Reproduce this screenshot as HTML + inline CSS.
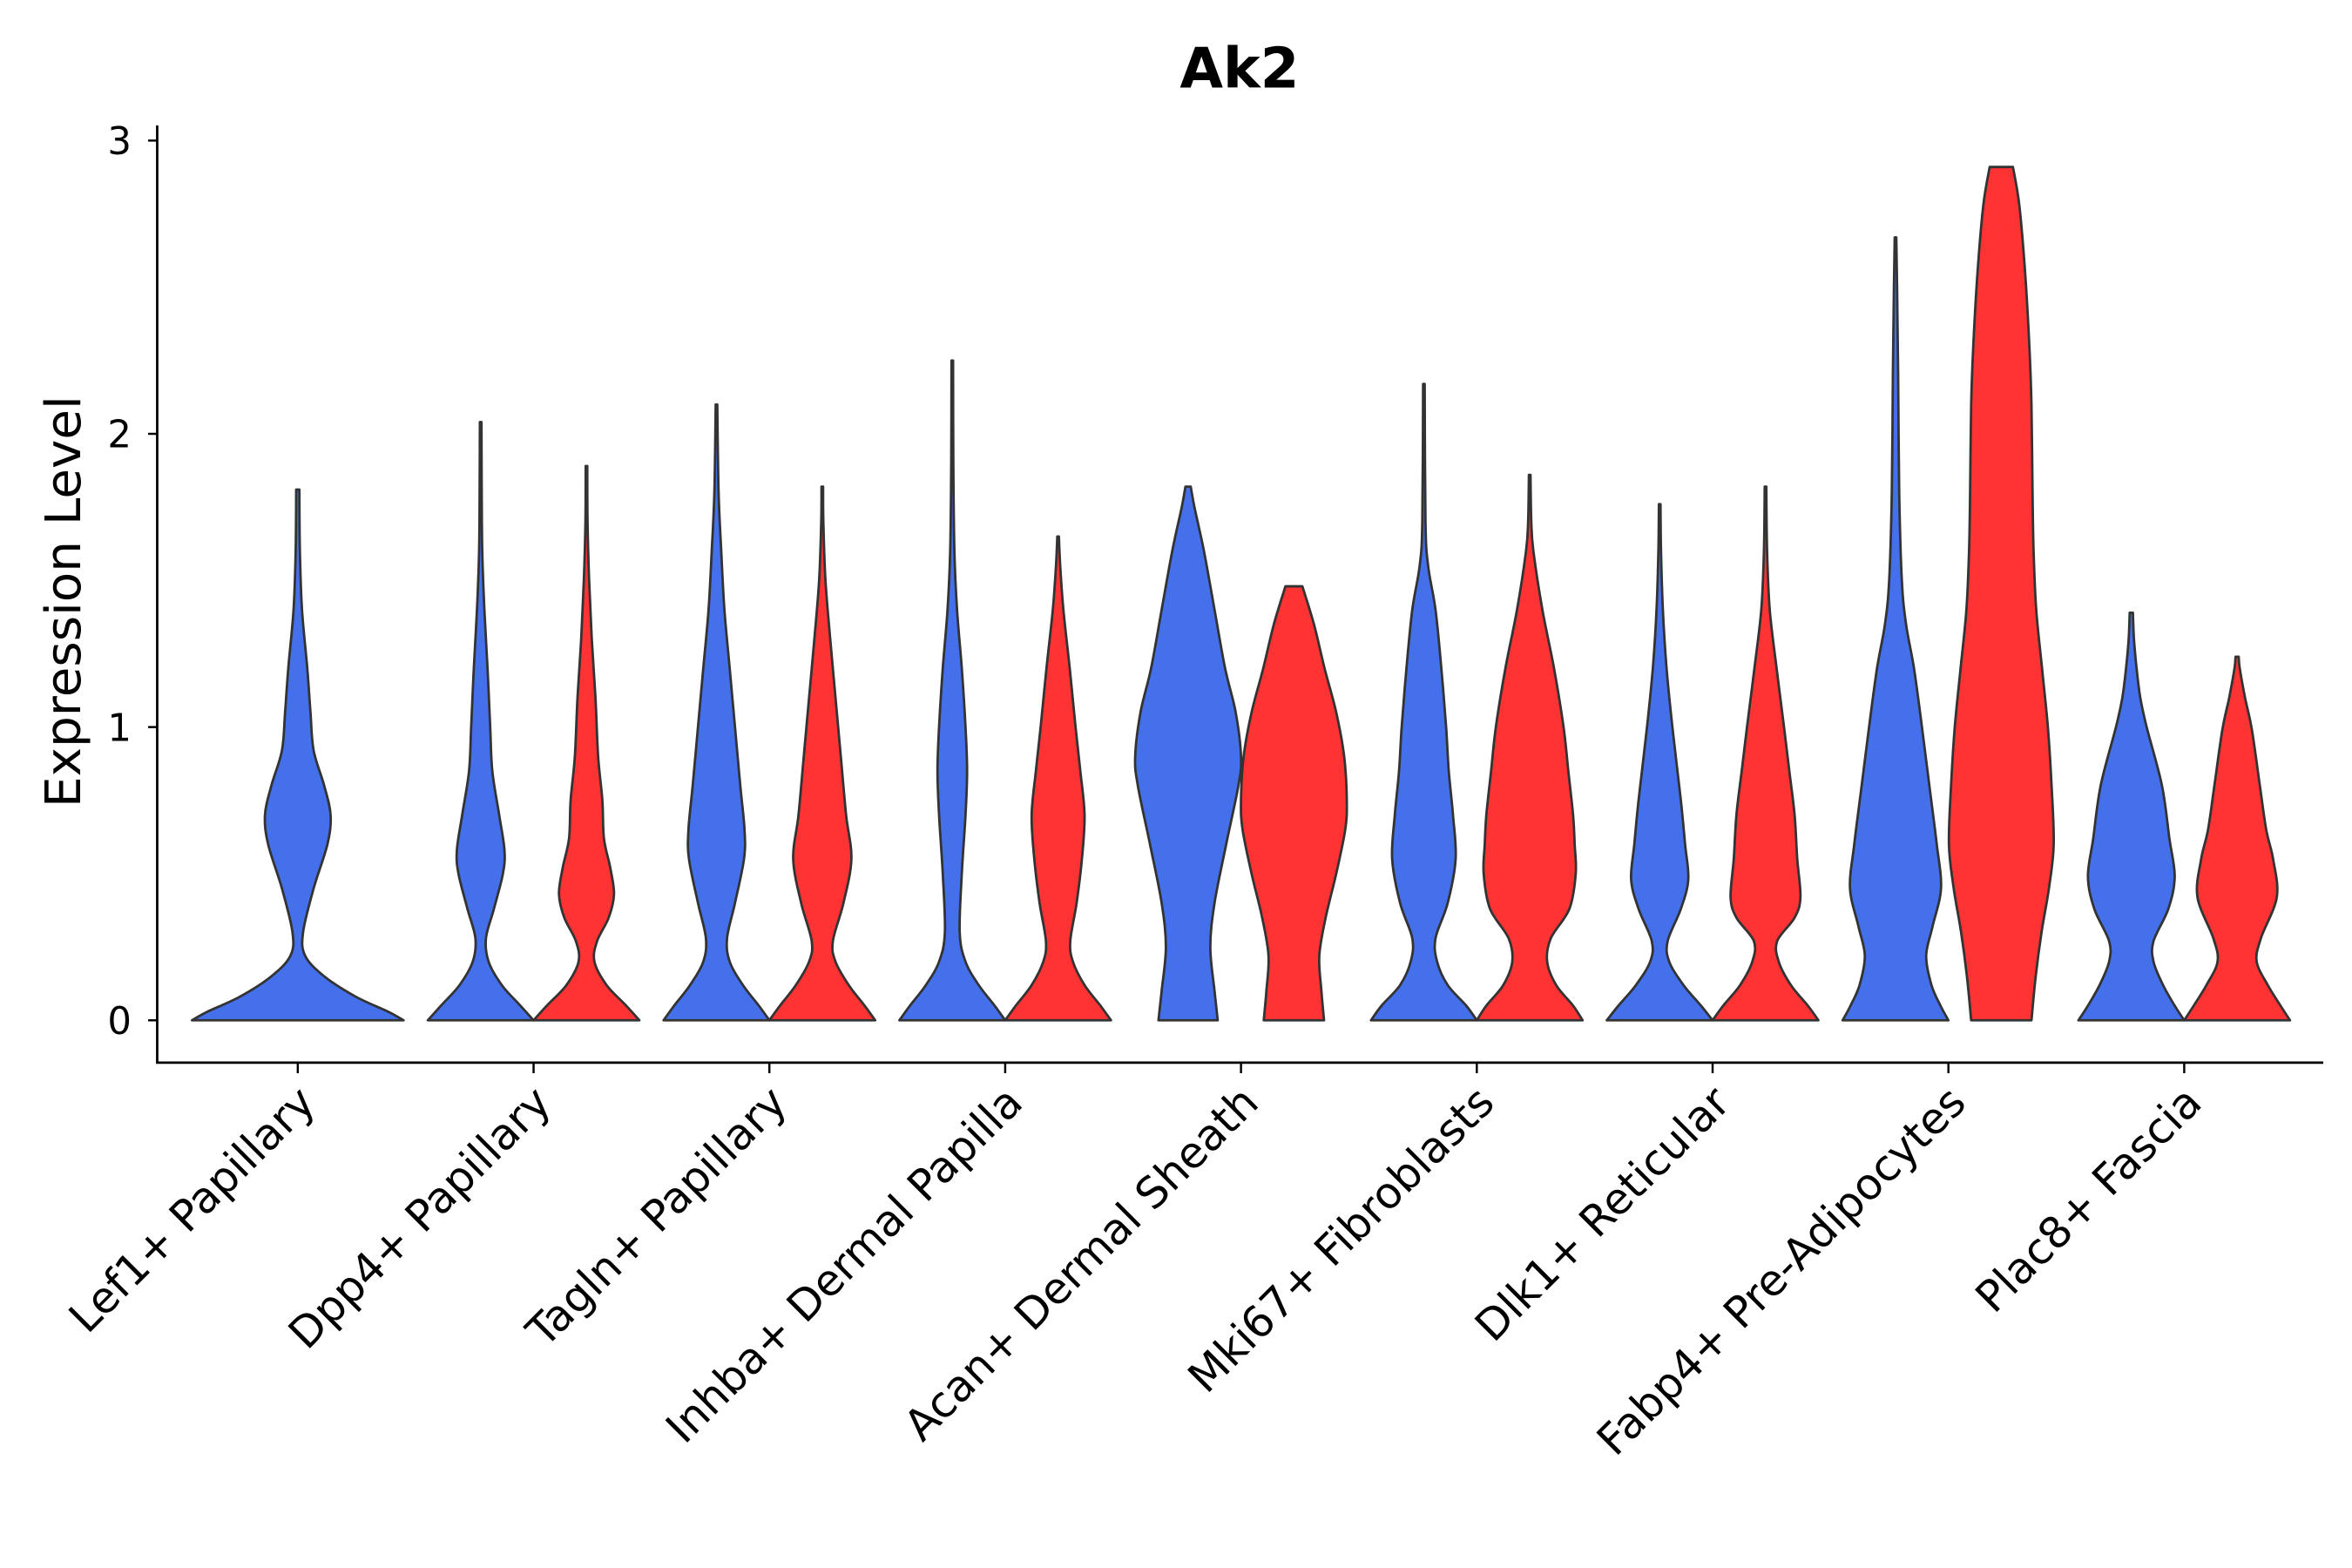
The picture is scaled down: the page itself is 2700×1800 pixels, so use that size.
<!DOCTYPE html>
<html><head><meta charset="utf-8"><style>html,body{margin:0;padding:0;background:#fff}svg{display:block}</style></head>
<body>
<svg id="chart" width="2700" height="1800" viewBox="0 0 1556 1037.33" xmlns="http://www.w3.org/2000/svg" font-family="DejaVu Sans, sans-serif">
<rect width="1556" height="1037.33" fill="#fff"/>
<text x="820" y="58" text-anchor="middle" font-size="37" font-weight="bold">Ak2</text>
<text transform="translate(53,398) rotate(-90)" text-anchor="middle" font-size="32.5">Expression Level</text>
<g id="axes"></g>
<g id="violins"></g>
</svg>
<script>
const categories = ["Lef1+ Papillary","Dpp4+ Papillary","Tagln+ Papillary","Inhba+ Dermal Papilla","Acan+ Dermal Sheath","Mki67+ Fibroblasts","Dlk1+ Reticular","Fabp4+ Pre-Adipocytes","Plac8+ Fascia"];
const yTicks = [0,1,2,3];
// violin profiles: [expression value, relative half-width]
const blueProfiles = [
 [[0,1],[0.03,0.85],[0.08,0.55],[0.15,0.25],[0.22,0.07],[0.3,0.05],[0.45,0.15],[0.6,0.28],[0.7,0.31],[0.8,0.25],[0.92,0.15],[1.05,0.12],[1.2,0.09],[1.4,0.04],[1.6,0.02],[1.81,0.015]],
 [[0,1],[0.05,0.75],[0.12,0.4],[0.2,0.15],[0.28,0.1],[0.38,0.25],[0.5,0.42],[0.58,0.45],[0.7,0.35],[0.85,0.22],[1.0,0.18],[1.2,0.13],[1.4,0.07],[1.6,0.03],[1.8,0.02],[2.04,0.015]],
 [[0,1],[0.05,0.8],[0.12,0.5],[0.2,0.25],[0.28,0.2],[0.4,0.35],[0.55,0.52],[0.65,0.53],[0.8,0.45],[1.0,0.35],[1.2,0.25],[1.4,0.15],[1.6,0.09],[1.8,0.04],[2.1,0.015]],
 [[0,1],[0.05,0.8],[0.12,0.5],[0.2,0.25],[0.3,0.14],[0.5,0.18],[0.7,0.25],[0.85,0.28],[1.0,0.25],[1.2,0.18],[1.4,0.09],[1.6,0.04],[1.9,0.02],[2.25,0.015]],
 [[0,0.56],[0.1,0.5],[0.25,0.42],[0.4,0.5],[0.6,0.72],[0.8,0.95],[0.9,1.0],[1.05,0.9],[1.2,0.7],[1.4,0.5],[1.6,0.3],[1.75,0.12],[1.82,0.05]],
 [[0,1],[0.05,0.8],[0.12,0.45],[0.2,0.25],[0.28,0.22],[0.4,0.45],[0.55,0.6],[0.7,0.55],[0.85,0.47],[1.0,0.42],[1.2,0.33],[1.4,0.22],[1.55,0.08],[1.7,0.03],[2.17,0.015]],
 [[0,1],[0.05,0.78],[0.12,0.45],[0.2,0.18],[0.27,0.15],[0.38,0.4],[0.48,0.54],[0.6,0.48],[0.75,0.4],[1.0,0.24],[1.2,0.13],[1.4,0.06],[1.6,0.025],[1.76,0.015]],
 [[0,1],[0.05,0.85],[0.12,0.68],[0.22,0.58],[0.32,0.7],[0.45,0.86],[0.6,0.78],[0.8,0.64],[1.0,0.5],[1.2,0.35],[1.35,0.2],[1.5,0.12],[1.8,0.07],[2.2,0.05],[2.5,0.03],[2.67,0.015]],
 [[0,1],[0.05,0.82],[0.12,0.6],[0.2,0.42],[0.27,0.42],[0.38,0.7],[0.49,0.82],[0.62,0.72],[0.8,0.58],[1.0,0.29],[1.1,0.17],[1.2,0.1],[1.3,0.05],[1.39,0.03]]
];
const redProfiles = [
 null,
 [[0,1],[0.05,0.75],[0.12,0.38],[0.2,0.15],[0.27,0.2],[0.35,0.42],[0.43,0.52],[0.52,0.45],[0.62,0.33],[0.75,0.3],[0.9,0.22],[1.1,0.17],[1.3,0.1],[1.5,0.05],[1.7,0.02],[1.89,0.015]],
 [[0,1],[0.05,0.8],[0.12,0.5],[0.2,0.25],[0.27,0.2],[0.4,0.4],[0.55,0.55],[0.7,0.45],[0.9,0.35],[1.1,0.25],[1.3,0.15],[1.5,0.06],[1.7,0.02],[1.82,0.015]],
 [[0,1],[0.05,0.8],[0.12,0.5],[0.2,0.28],[0.27,0.23],[0.4,0.35],[0.55,0.45],[0.7,0.5],[0.85,0.42],[1.0,0.33],[1.2,0.22],[1.4,0.1],[1.55,0.04],[1.65,0.015]],
 [[0,0.57],[0.1,0.52],[0.22,0.48],[0.35,0.6],[0.5,0.8],[0.65,0.97],[0.75,1.0],[0.9,0.95],[1.05,0.8],[1.2,0.58],[1.35,0.38],[1.48,0.16]],
 [[0,1],[0.05,0.82],[0.12,0.5],[0.2,0.33],[0.28,0.4],[0.38,0.75],[0.5,0.87],[0.6,0.85],[0.7,0.82],[0.85,0.73],[1.0,0.64],[1.2,0.46],[1.4,0.24],[1.6,0.07],[1.7,0.03],[1.86,0.015]],
 [[0,1],[0.05,0.8],[0.12,0.48],[0.2,0.25],[0.27,0.22],[0.35,0.55],[0.42,0.66],[0.55,0.6],[0.7,0.55],[0.85,0.45],[1.0,0.35],[1.2,0.21],[1.4,0.08],[1.6,0.03],[1.82,0.015]],
 [[0,0.57],[0.15,0.65],[0.3,0.76],[0.45,0.9],[0.6,0.99],[0.8,0.95],[1.0,0.88],[1.2,0.77],[1.4,0.66],[1.6,0.61],[1.8,0.59],[2.1,0.57],[2.3,0.53],[2.55,0.45],[2.78,0.34],[2.91,0.22]],
 [[0,1],[0.05,0.82],[0.12,0.58],[0.2,0.37],[0.28,0.45],[0.42,0.75],[0.55,0.68],[0.65,0.55],[0.8,0.43],[0.99,0.28],[1.1,0.15],[1.2,0.05],[1.24,0.03]]
];
const NS="http://www.w3.org/2000/svg";
const X0=197, STEP=156, Y0=675, YPU=194;
const xPos=i=>X0+STEP*i;
const yPos=v=>Y0-v*YPU;
function mk(tag,attrs,parent){const e=document.createElementNS(NS,tag);for(const k in attrs)e.setAttribute(k,attrs[k]);parent.appendChild(e);return e;}
const axes=document.getElementById('axes');
const yl=mk('line',{x1:104,y1:83,x2:104,y2:703,stroke:'#000','stroke-width':1.6},axes);


const xl=mk('line',{x1:103.2,y1:703,x2:1537,y2:703,stroke:'#000','stroke-width':1.6},axes);


yTicks.forEach(t=>{
 const tk=mk('line',{x1:98,y1:yPos(t),x2:104,y2:yPos(t),stroke:'#000','stroke-width':1.4},axes);
 
 
 const lb=mk('text',{x:87,y:yPos(t)+9,'text-anchor':'end','font-size':25},axes);
 
 
 lb.textContent=t;
});
categories.forEach((c,i)=>{
 const x=xPos(i);
 const tk=mk('line',{x1:x,y1:703,x2:x,y2:710,stroke:'#000','stroke-width':1.4},axes);
 
 
 const lb=mk('text',{transform:`translate(${x+13},${731}) rotate(-45)`,'text-anchor':'end','font-size':28.5},axes);
 
 
 lb.textContent=c;
});
function smooth(pts){
 let d=`M${pts[0][0]},${pts[0][1]}`;
 for(let i=0;i<pts.length-1;i++){
  const p0=pts[Math.max(0,i-1)],p1=pts[i],p2=pts[i+1],p3=pts[Math.min(pts.length-1,i+2)];
  const c1=[p1[0]+(p2[0]-p0[0])/6,p1[1]+(p2[1]-p0[1])/6];
  const c2=[p2[0]-(p3[0]-p1[0])/6,p2[1]-(p3[1]-p1[1])/6];
  d+=`C${c1[0]},${c1[1]} ${c2[0]},${c2[1]} ${p2[0]},${p2[1]}`;
 }
 return d;
}
function violin(prof,cx,half,fill,name){
 const right=prof.map(p=>[cx+p[1]*half,yPos(p[0])]);
 const left=prof.slice().reverse().map(p=>[cx-p[1]*half,yPos(p[0])]);
 let d=smooth(right);
 d+=smooth(left).replace('M','L');
 d+='Z';
 const g=document.getElementById('violins');
 const p=mk('path',{d:d,fill:fill,stroke:'#333','stroke-width':1.6,'stroke-linejoin':'round'},g);
 
 
}
categories.forEach((c,i)=>{
 const x=xPos(i);
 if(!redProfiles[i]){violin(blueProfiles[i],x,70,'#4470EB','violin-blue-'+i);}
 else{
  violin(blueProfiles[i],x-35,35,'#4470EB','violin-blue-'+i);
  violin(redProfiles[i],x+35,35,'#FF3333','violin-red-'+i);
 }
});
</script>
</body></html>
